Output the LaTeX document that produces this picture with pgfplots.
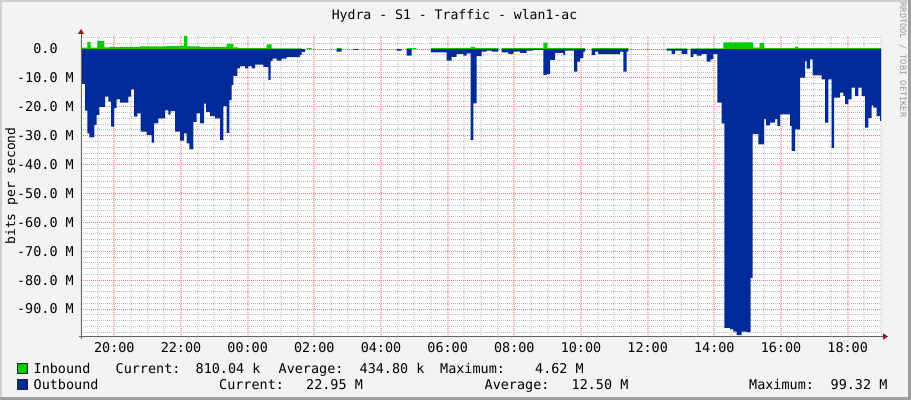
\documentclass[border=0pt]{standalone}
\usepackage{pgfplots}
\pgfplotsset{compat=1.18}
\usepackage{pgfplotstable}
\usetikzlibrary{arrows.meta}
\usepackage{fontspec}
\newfontfamily\rrd{DejaVu Sans Mono}
\definecolor{inb}{RGB}{0,204,0}
\definecolor{outb}{RGB}{0,42,151}
\definecolor{back}{RGB}{243,243,243}
\definecolor{shadea}{RGB}{207,207,207}
\definecolor{shadeb}{RGB}{158,158,158}
\definecolor{gridc}{RGB}{190,190,190}
\definecolor{mgridc}{RGB}{235,130,130}
\definecolor{vgridc}{RGB}{218,218,218}
\definecolor{vmgridc}{RGB}{245,170,170}
\definecolor{axisc}{RGB}{100,100,100}
\definecolor{arrowc}{RGB}{140,30,30}
\newcommand\tf{\rrd\fontsize{13.5}{15}\selectfont}

\pgfplotstableread[row sep=\\]{
h v\\
0.00 0.5\\
0.19 2.5\\
0.29 0.5\\
0.49 2.8\\
0.70 0.6\\
0.87 0.7\\
1.77 0.9\\
2.57 1.0\\
2.97 1.2\\
3.09 4.5\\
3.19 0.9\\
3.57 0.7\\
4.37 1.8\\
4.57 0.6\\
4.72 0.3\\
5.57 1.6\\
5.72 0.2\\
6.62 0\\
6.77 0.3\\
6.92 0\\
7.67 0.3\\
7.82 0\\
9.77 0.3\\
10.07 0\\
10.50 0.3\\
11.69 0.7\\
11.82 0.3\\
12.52 0\\
12.62 0.3\\
13.87 2.2\\
13.99 0.3\\
15.12 0\\
15.32 0.3\\
16.42 0\\
17.57 0.2\\
18.19 0\\
18.29 0.2\\
19.27 2.3\\
20.16 0.5\\
20.36 2.0\\
20.49 0.3\\
21.42 0.7\\
21.52 0.3\\
24.00 0.3\\
}\inbound

\pgfplotstableread[row sep=\\]{
h v\\
0.00 -12.1\\
0.12 -21.3\\
0.19 -29.2\\
0.25 -30.6\\
0.40 -26.3\\
0.47 -22.8\\
0.55 -20.0\\
0.72 -16.5\\
0.82 -18.2\\
0.90 -26.9\\
0.99 -20.4\\
1.07 -17.4\\
1.17 -18.6\\
1.42 -16.5\\
1.50 -14.0\\
1.59 -23.4\\
1.69 -22.3\\
1.79 -28.6\\
1.97 -29.7\\
2.12 -32.4\\
2.19 -25.7\\
2.32 -24.0\\
2.52 -21.2\\
2.62 -22.7\\
2.69 -21.5\\
2.82 -28.6\\
2.97 -31.7\\
3.09 -29.2\\
3.17 -32.7\\
3.25 -34.7\\
3.37 -25.2\\
3.47 -22.3\\
3.57 -25.7\\
3.69 -18.9\\
3.75 -21.8\\
3.87 -23.2\\
4.02 -24.0\\
4.17 -31.5\\
4.27 -19.8\\
4.37 -29.0\\
4.45 -17.6\\
4.52 -12.5\\
4.57 -9.3\\
4.69 -6.7\\
4.77 -5.9\\
4.92 -6.7\\
5.02 -5.8\\
5.12 -6.7\\
5.22 -5.4\\
5.47 -6.2\\
5.62 -10.7\\
5.69 -4.2\\
5.75 -3.3\\
5.87 -4.0\\
6.02 -3.3\\
6.17 -2.8\\
6.57 -2.0\\
6.62 -1.0\\
6.72 0\\
7.67 -0.9\\
7.82 0\\
8.17 -0.3\\
8.32 0\\
9.47 -0.6\\
9.62 0\\
9.77 -2.3\\
9.92 0\\
10.50 -1.2\\
10.97 -4.0\\
11.12 -2.7\\
11.27 -1.7\\
11.47 -2.3\\
11.57 -1.5\\
11.69 -31.5\\
11.77 -18.8\\
11.87 -2.5\\
12.02 -0.9\\
12.17 -0.6\\
12.32 -0.9\\
12.52 0\\
12.62 -1.2\\
12.82 -1.7\\
12.97 -0.9\\
13.17 -1.3\\
13.37 -0.6\\
13.57 -0.3\\
13.87 -9.0\\
13.97 -8.7\\
14.07 -3.8\\
14.22 -1.3\\
14.47 -2.1\\
14.52 -0.6\\
14.79 -7.8\\
14.89 -4.4\\
14.97 -3.2\\
15.07 -0.9\\
15.12 0\\
15.32 -2.1\\
15.42 -0.9\\
15.52 -1.8\\
16.17 -0.9\\
16.27 -7.8\\
16.37 -0.9\\
16.42 0\\
17.57 -0.6\\
17.72 -1.7\\
17.82 -0.6\\
18.02 -1.7\\
18.19 0\\
18.29 -2.7\\
18.37 -1.7\\
18.47 -2.3\\
18.62 -1.7\\
18.77 -4.4\\
18.89 -3.6\\
18.97 -1.7\\
19.09 -18.6\\
19.22 -25.7\\
19.30 -96.5\\
19.47 -97.0\\
19.57 -97.8\\
19.67 -99.0\\
19.82 -97.8\\
19.97 -98.0\\
20.09 -79.2\\
20.15 -29.5\\
20.32 -33.0\\
20.49 -24.3\\
20.55 -26.4\\
20.67 -25.5\\
20.82 -24.3\\
20.89 -26.6\\
20.97 -22.6\\
21.27 -26.6\\
21.32 -35.3\\
21.42 -27.8\\
21.57 -9.9\\
21.72 -4.2\\
21.77 -6.8\\
21.87 -3.6\\
21.95 -9.1\\
22.22 -10.5\\
22.32 -25.5\\
22.42 -10.5\\
22.52 -34.2\\
22.59 -16.8\\
22.77 -15.1\\
22.87 -16.3\\
22.92 -19.1\\
23.02 -17.4\\
23.12 -13.4\\
23.22 -16.3\\
23.32 -13.4\\
23.42 -16.3\\
23.52 -27.2\\
23.62 -23.8\\
23.72 -19.5\\
23.77 -20.3\\
23.87 -23.2\\
23.97 -24.9\\
24.00 -24.9\\
}\outbound

\begin{document}
\begin{tikzpicture}[x=1bp,y=1bp]
\useasboundingbox (0,0) rectangle (911,400);
% background with shading border
\fill[shadea] (0,0) rectangle (911,400);
\fill[shadeb] (0,0) rectangle (911,3);
\fill[shadeb] (908,0) rectangle (911,400);
\fill[back] (2,3) rectangle (908,398);

\begin{axis}[
  at={(81bp,63.5bp)}, anchor=south west,
  scale only axis, width=800bp, height=300.5bp,
  xmin=0, xmax=24, ymin=-99.5, ymax=4.5,
  axis line style={draw=none},
  axis background/.style={fill=white},
  xtick={1,3,...,23},
  xticklabels={20:00,22:00,00:00,02:00,04:00,06:00,08:00,10:00,12:00,14:00,16:00,18:00},
  minor xtick={0,0.5,1.5,2,2.5,3.5,4,4.5,5.5,6,6.5,7.5,8,8.5,9.5,10,10.5,11.5,12,12.5,13.5,14,14.5,15.5,16,16.5,17.5,18,18.5,19.5,20,20.5,21.5,22,22.5,23.5,24},
  ytick={-90,-80,...,0},
  yticklabels={-90.0 M,-80.0 M,-70.0 M,-60.0 M,-50.0 M,-40.0 M,-30.0 M,-20.0 M,-10.0 M,0.0\hphantom{MM}},
  minor ytick={-98,-96,-94,-92,-88,-86,-84,-82,-78,-76,-74,-72,-68,-66,-64,-62,-58,-56,-54,-52,-48,-46,-44,-42,-38,-36,-34,-32,-28,-26,-24,-22,-18,-16,-14,-12,-8,-6,-4,-2,2,4},
  grid=both,
  major grid style={draw=mgridc, dash pattern=on 1bp off 1bp, line width=0.9bp},
  minor grid style={draw=gridc, dash pattern=on 1bp off 1bp, line width=0.9bp},
  major x grid style={draw=vmgridc, dash pattern=on 1bp off 1bp, line width=2bp},
  minor x grid style={draw=vgridc, dash pattern=on 1bp off 1bp, line width=2bp},
  major tick length=0pt, minor tick length=0pt,
  tick label style={font=\tf},
  xticklabel style={inner sep=0pt, anchor=north, yshift=-5.5bp},
  yticklabel style={inner sep=0pt, anchor=east, xshift=-7bp},
]
\addplot[const plot, fill=inb, draw=none, mark=none] table[x=h,y=v] {\inbound} \closedcycle;
\addplot[const plot, fill=outb, draw=none, mark=none] table[x=h,y=v] {\outbound} \closedcycle;
\end{axis}

% axis lines with arrows
\draw[axisc, line width=1bp, -{Triangle[length=5bp,width=6bp,color=arrowc]}] (81,61.5) -- (81,371);
\draw[axisc, line width=1bp, -{Triangle[length=5bp,width=6bp,color=arrowc]}] (79,63.5) -- (888,63.5);

% title and labels
\node[anchor=base, inner sep=0pt, font=\rrd\fontsize{13.2}{15}\selectfont] at (454.5,381) {Hydra - S1 - Traffic - wlan1-ac};
\node[anchor=base, rotate=90, inner sep=0pt, font=\rrd\fontsize{13}{15}\selectfont] at (15,214) {bits per second};
\node[anchor=center, rotate=-90, inner sep=0pt, text=black!40, font=\rrd\fontsize{8.7}{10}\selectfont] at (903,340) {RRDTOOL / TOBI OETIKER};

% legend
\filldraw[fill=inb, draw=black!85, line width=0.8bp] (17.5,26.7) rectangle (27.5,37.0);
\filldraw[fill=outb, draw=black!85, line width=0.8bp] (17.5,10.7) rectangle (27.5,21.0);
\begin{scope}[every node/.style={anchor=base west, inner sep=0pt, font=\tf}]
\node at (33.5,26.7) {Inbound};
\node at (115.5,26.7) {Current:};
\node at (195.5,26.7) {810.04 k};
\node at (278.5,26.7) {Average:};
\node at (359.5,26.7) {434.80 k};
\node at (440,26.7) {Maximum:};
\node at (535,26.7) {4.62 M};
\node at (33.5,11) {Outbound};
\node at (219,11) {Current:};
\node at (306,11) {22.95 M};
\node at (484.5,11) {Average:};
\node at (571.5,11) {12.50 M};
\node at (749,11) {Maximum:};
\node at (830.5,11) {99.32 M};
\end{scope}
\end{tikzpicture}
\end{document}
